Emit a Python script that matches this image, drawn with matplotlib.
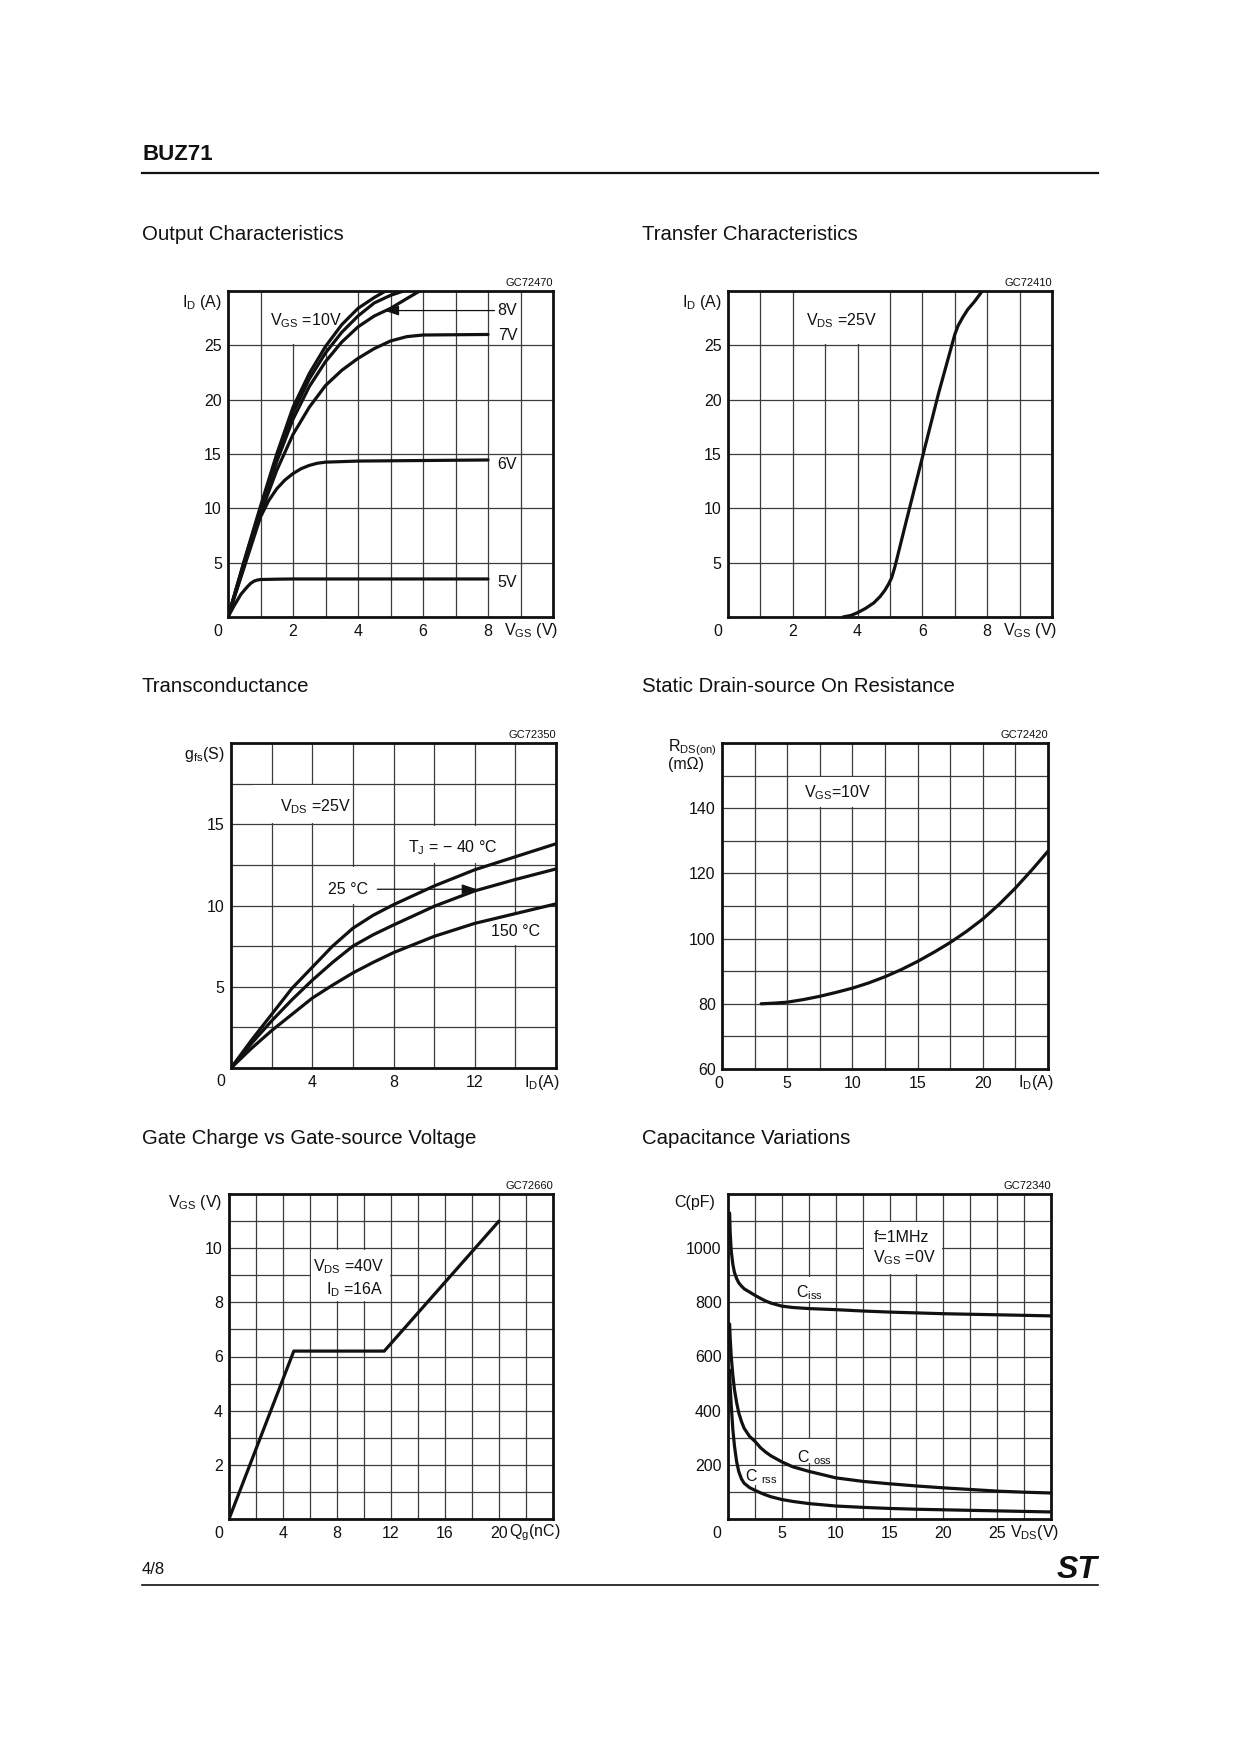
import numpy as np
import matplotlib

matplotlib.use("Agg")

import matplotlib.pyplot as plt
from matplotlib.lines import Line2D
from matplotlib.patches import Rectangle

W, H = 1240, 1754
INK = "#111111"
GRID = "#3c3c3c"

plt.rcParams.update({
    "font.family": ["Liberation Sans", "DejaVu Sans"],
    "mathtext.fontset": "custom",
    "mathtext.rm": "Liberation Sans",
    "mathtext.it": "Liberation Sans:italic",
    "mathtext.bf": "Liberation Sans:bold",
    "text.color": INK,
})

# --- Output characteristics (I_D vs V, per V_GS) ---
out_v5 = [0, 0.2, 0.4, 0.6, 0.7, 0.8, 0.9, 1.0, 1.5, 2.0, 4.0, 8.0]
out_i5 = [0, 1.1, 2.1, 2.8, 3.1, 3.3, 3.4, 3.45, 3.48, 3.5, 3.5, 3.5]
out_v6 = [0, 0.5, 0.75, 1.0, 1.25, 1.5, 1.75, 2.0, 2.25, 2.5, 2.75, 3.0, 4.0, 6.0, 8.0]
out_i6 = [0, 4.6, 6.9, 9.2, 10.7, 11.8, 12.6, 13.2, 13.65, 13.95, 14.15, 14.25, 14.35, 14.4, 14.45]
out_v7 = [0, 0.5, 1.0, 1.5, 2.0, 2.5, 3.0, 3.5, 4.0, 4.5, 5.0, 5.5, 6.0, 8.0]
out_i7 = [0, 4.8, 9.5, 13.5, 16.8, 19.3, 21.3, 22.7, 23.8, 24.7, 25.4, 25.8, 25.95, 26.0]
out_v8 = [0, 0.5, 1.0, 1.5, 2.0, 2.5, 3.0, 3.5, 4.0, 4.5, 5.0, 5.5, 5.9]
out_i8 = [0, 5.0, 9.8, 14.3, 18.2, 21.2, 23.5, 25.3, 26.7, 27.7, 28.4, 29.3, 30.0]
out_v9 = [0, 0.5, 1.0, 1.5, 2.0, 2.5, 3.0, 3.5, 4.0, 4.5, 5.0, 5.4]
out_i9 = [0, 5.1, 10.0, 14.7, 18.8, 21.9, 24.3, 26.2, 27.7, 28.9, 29.6, 30.0]
out_v10 = [0, 0.5, 1.0, 1.5, 2.0, 2.5, 3.0, 3.5, 4.0, 4.5, 4.85]
out_i10 = [0, 5.2, 10.2, 15.0, 19.3, 22.4, 24.9, 26.9, 28.4, 29.4, 30.0]

# --- Transfer characteristics ---
tr_vgs = [3.55, 3.8, 4.0, 4.25, 4.5, 4.7, 4.85, 4.95, 5.05, 5.15, 5.5, 6.0, 6.5, 7.0,
          7.1, 7.25, 7.4, 7.6, 7.85]
tr_id = [0, 0.15, 0.4, 0.8, 1.3, 1.9, 2.5, 3.0, 3.6, 4.6, 8.8, 14.7, 20.6, 26.0,
         26.8, 27.6, 28.3, 29.0, 30.0]

# --- Transconductance ---
gm_id = [0, 1, 2, 3, 4, 5, 6, 7, 8, 10, 12, 14, 16]
gm_m40 = [0, 1.7, 3.3, 4.9, 6.2, 7.5, 8.6, 9.4, 10.05, 11.2, 12.2, 13.0, 13.8]
gm_25 = [0, 1.5, 2.9, 4.2, 5.4, 6.5, 7.5, 8.2, 8.8, 9.95, 10.9, 11.6, 12.25]
gm_150 = [0, 1.2, 2.3, 3.3, 4.3, 5.1, 5.85, 6.5, 7.1, 8.1, 8.9, 9.5, 10.1]

# --- Static drain-source on resistance ---
ron_id = [3, 4, 5, 6.25, 7.5, 8.75, 10, 11.25, 12.5, 13.75, 15, 16.25, 17.5, 18.75, 20,
          21.25, 22.5, 23.75, 25]
ron_mohm = [80, 80.2, 80.5, 81.3, 82.3, 83.5, 84.8, 86.4, 88.3, 90.5, 93.0, 95.8, 98.8,
            102.2, 106.0, 110.5, 115.5, 121.0, 126.8]

# --- Gate charge ---
gc_qg = [0, 4.8, 11.5, 20]
gc_vgs = [0, 6.2, 6.2, 11.0]

# --- Capacitance variations ---
cap_vds = [0.15, 0.2, 0.3, 0.45, 0.6, 0.8, 1.0, 1.25, 1.5, 2.0, 2.5, 3.0, 3.5, 4.0, 5.0,
           6.0, 7.5, 10, 12.5, 15, 17.5, 20, 22.5, 25, 27.5, 30]
cap_ciss = [1130, 1060, 990, 940, 910, 888, 872, 860, 850, 838, 826, 815, 805, 797, 786,
            781, 777, 773, 768, 764, 761, 758, 756, 754, 752, 750]
cap_coss = [720, 670, 600, 530, 478, 430, 392, 360, 335, 305, 287, 264, 247, 233, 211,
            193, 176, 152, 139, 130, 122, 115, 109, 103, 99, 96]
cap_crss = [550, 490, 420, 330, 270, 212, 175, 148, 132, 116, 106, 97, 89, 82, 72,
            65, 57, 48, 43, 39, 36, 34, 32, 30, 28, 26]


def add_axes(fig, x0, y0, x1, y1):
    return fig.add_axes([x0 / W, 1 - y1 / H, (x1 - x0) / W, (y1 - y0) / H])


def style(ax, xlim, ylim, xstep, ystep, xticks, yticks, code, zero_dx=-10):
    ax.set_xlim(xlim)
    ax.set_ylim(ylim)
    ax.set_xticks(xticks)
    ax.set_yticks(yticks)
    ax.set_xticks(np.arange(xlim[0], xlim[1] + xstep / 2, xstep), minor=True)
    ax.set_yticks(np.arange(ylim[0], ylim[1] + ystep / 2, ystep), minor=True)
    ax.grid(which="both", color=GRID, linewidth=0.9)
    ax.set_axisbelow(True)
    ax.tick_params(which="both", length=0, labelsize=11.5, labelcolor=INK)
    ax.tick_params(axis="x", pad=5)
    ax.tick_params(axis="y", pad=4.5)
    for sp in ax.spines.values():
        sp.set_linewidth(2.0)
        sp.set_color(INK)
    ax.annotate("0", xy=(0, 0), xycoords="axes fraction", xytext=(zero_dx, -14),
                textcoords="offset pixels", ha="center", va="center", fontsize=11.5)
    ax.annotate(code, xy=(1, 1), xycoords="axes fraction", xytext=(0, 8),
                textcoords="offset pixels", ha="right", va="center", fontsize=8)


def xunit(ax, x, s):
    ax.annotate(s, xy=(x, 0), xycoords=("data", "axes fraction"), xytext=(0, -14),
                textcoords="offset pixels", ha="left", va="center", fontsize=11.5)


def yunit(ax, s, dx=-6, dy=-12, ha="right"):
    ax.annotate(s, xy=(0, 1), xycoords="axes fraction", xytext=(dx, dy),
                textcoords="offset pixels", ha=ha, va="center", fontsize=11.5)


def blank(ax, x0, y0, x1, y1):
    ax.add_patch(Rectangle((x0, y0), x1 - x0, y1 - y0, facecolor="white",
                           edgecolor="none", zorder=0.8))


def curve(ax, x, y):
    ax.plot(x, y, color=INK, linewidth=2.3, solid_capstyle="round",
            solid_joinstyle="round", zorder=2)


def label(ax, x, y, s, ha="left"):
    ax.text(x, y, s, ha=ha, va="center", fontsize=11.5, zorder=3)


fig = plt.figure(figsize=(W / 100, H / 100), dpi=100)

# page header / footer
fig.text(142 / W, 1 - 154 / H, "BUZ71", fontsize=16, fontweight="bold", va="center")
fig.add_artist(Line2D([142 / W, 1098 / W], [1 - 173 / H] * 2, color=INK, linewidth=1.6))
fig.add_artist(Line2D([142 / W, 1098 / W], [1 - 1585 / H] * 2, color=INK, linewidth=1.2))
fig.text(142 / W, 1 - 1570 / H, "4/8", fontsize=12, va="center")
fig.text(1097 / W, 1 - 1570 / H, "ST", fontsize=23, fontweight="bold", fontstyle="italic",
         ha="right", va="center")

titles = [
    (142, 234, "Output Characteristics"),
    (642, 234, "Transfer Characteristics"),
    (142, 686, "Transconductance"),
    (642, 686, "Static Drain-source On Resistance"),
    (142, 1138, "Gate Charge vs Gate-source Voltage"),
    (642, 1138, "Capacitance Variations"),
]
for tx, ty, s in titles:
    fig.text(tx / W, 1 - ty / H, s, fontsize=14.7, va="center")

# 1. Output characteristics
ax = add_axes(fig, 228, 291, 553, 617)
style(ax, (0, 10), (0, 30), 1, 5, [2, 4, 6, 8], [5, 10, 15, 20, 25], "GC72470")
blank(ax, 1.1, 25.15, 3.9, 30)
for xs, ys in [(out_v5, out_i5), (out_v6, out_i6), (out_v7, out_i7),
               (out_v8, out_i8), (out_v9, out_i9), (out_v10, out_i10)]:
    curve(ax, xs, ys)
label(ax, 1.3, 27.3, "V$_{\\mathrm{GS}}$ =10V")
label(ax, 8.3, 28.2, "8V")
label(ax, 8.3, 25.9, "7V")
label(ax, 8.3, 14.0, "6V")
label(ax, 8.3, 3.2, "5V")
ax.annotate("", xy=(4.8, 28.2), xytext=(8.2, 28.2),
            arrowprops=dict(arrowstyle="-|>,head_length=0.9,head_width=0.3",
                            color=INK, linewidth=0.9, shrinkA=0, shrinkB=0))
xunit(ax, 8.5, "V$_{\\mathrm{GS}}$ (V)")
yunit(ax, "I$_{\\mathrm{D}}$ (A)")

# 2. Transfer characteristics
ax = add_axes(fig, 728, 291, 1052, 617)
style(ax, (0, 10), (0, 30), 1, 5, [2, 4, 6, 8], [5, 10, 15, 20, 25], "GC72410")
blank(ax, 2.1, 25.15, 4.9, 30)
curve(ax, tr_vgs, tr_id)
label(ax, 2.4, 27.3, "V$_{\\mathrm{DS}}$ =25V")
xunit(ax, 8.5, "V$_{\\mathrm{GS}}$ (V)")
yunit(ax, "I$_{\\mathrm{D}}$ (A)")

# 3. Transconductance
ax = add_axes(fig, 231, 743, 556, 1068)
style(ax, (0, 16), (0, 20), 2, 2.5, [4, 8, 12], [5, 10, 15], "GC72350")
blank(ax, 1.1, 15.1, 5.9, 17.4)
blank(ax, 8.1, 12.6, 13.9, 14.9)
blank(ax, 4.5, 10.1, 6.9, 12.4)
blank(ax, 12.6, 7.6, 15.4, 9.4)
curve(ax, gm_id, gm_m40)
curve(ax, gm_id, gm_25)
curve(ax, gm_id, gm_150)
label(ax, 2.4, 16.1, "V$_{\\mathrm{DS}}$ =25V")
label(ax, 8.7, 13.55, "T$_{\\mathrm{J}}$ = \u2212 40 \u00b0C")
label(ax, 4.8, 11.0, "25 \u00b0C")
label(ax, 12.8, 8.4, "150 \u00b0C")
ax.annotate("", xy=(12.1, 11.0), xytext=(7.2, 11.0),
            arrowprops=dict(arrowstyle="-|>,head_length=0.9,head_width=0.3",
                            color=INK, linewidth=0.9, shrinkA=0, shrinkB=0))
xunit(ax, 14.4, "I$_{\\mathrm{D}}$(A)")
yunit(ax, "g$_{\\mathrm{fs}}$(S)")

# 4. Static drain-source on resistance
ax = add_axes(fig, 722, 743, 1048, 1069)
style(ax, (0, 25), (60, 160), 2.5, 10, [5, 10, 15, 20], [60, 80, 100, 120, 140], "GC72420",
      zero_dx=-3)
blank(ax, 5.2, 140.5, 12.3, 149.5)
curve(ax, ron_id, ron_mohm)
label(ax, 6.3, 144.7, "V$_{\\mathrm{GS}}$=10V")
xunit(ax, 22.7, "I$_{\\mathrm{D}}$(A)")
yunit(ax, "R$_{\\mathrm{DS(on)}}$", dx=-54, dy=-5, ha="left")
yunit(ax, "(m\u03a9)", dx=-54, dy=-21, ha="left")

# 5. Gate charge
ax = add_axes(fig, 229, 1194, 553, 1519)
style(ax, (0, 24), (0, 12), 2, 1, [4, 8, 12, 16, 20], [2, 4, 6, 8, 10], "GC72660")
blank(ax, 6.05, 8.05, 11.95, 9.95)
curve(ax, gc_qg, gc_vgs)
label(ax, 6.2, 9.3, "V$_{\\mathrm{DS}}$ =40V")
label(ax, 11.45, 8.45, "I$_{\\mathrm{D}}$ =16A", ha="right")
xunit(ax, 20.75, "Q$_{\\mathrm{g}}$(nC)")
yunit(ax, "V$_{\\mathrm{GS}}$ (V)", dx=-7, dy=-9)

# 6. Capacitance variations
ax = add_axes(fig, 728, 1194, 1051, 1519)
style(ax, (0, 30), (0, 1200), 2.5, 100, [5, 10, 15, 20, 25], [200, 400, 600, 800, 1000],
      "GC72340", zero_dx=-11)
blank(ax, 12.6, 905, 19.9, 1095)
blank(ax, 5.1, 805, 9.9, 895)
blank(ax, 5.1, 205, 9.9, 295)
blank(ax, 1.3, 125, 4.9, 195)
curve(ax, cap_vds, cap_ciss)
curve(ax, cap_vds, cap_coss)
curve(ax, cap_vds, cap_crss)
label(ax, 13.5, 1040, "f=1MHz")
label(ax, 13.5, 965, "V$_{\\mathrm{GS}}$ =0V")
label(ax, 6.3, 836, "C$_{\\mathrm{iss}}$")
label(ax, 6.4, 226, "C $_{\\mathrm{oss}}$")
label(ax, 1.6, 158, "C $_{\\mathrm{rss}}$")
xunit(ax, 26.2, "V$_{\\mathrm{DS}}$(V)")
yunit(ax, "C(pF)", dx=-13, dy=-9)

fig.savefig("out.png", dpi=100)
